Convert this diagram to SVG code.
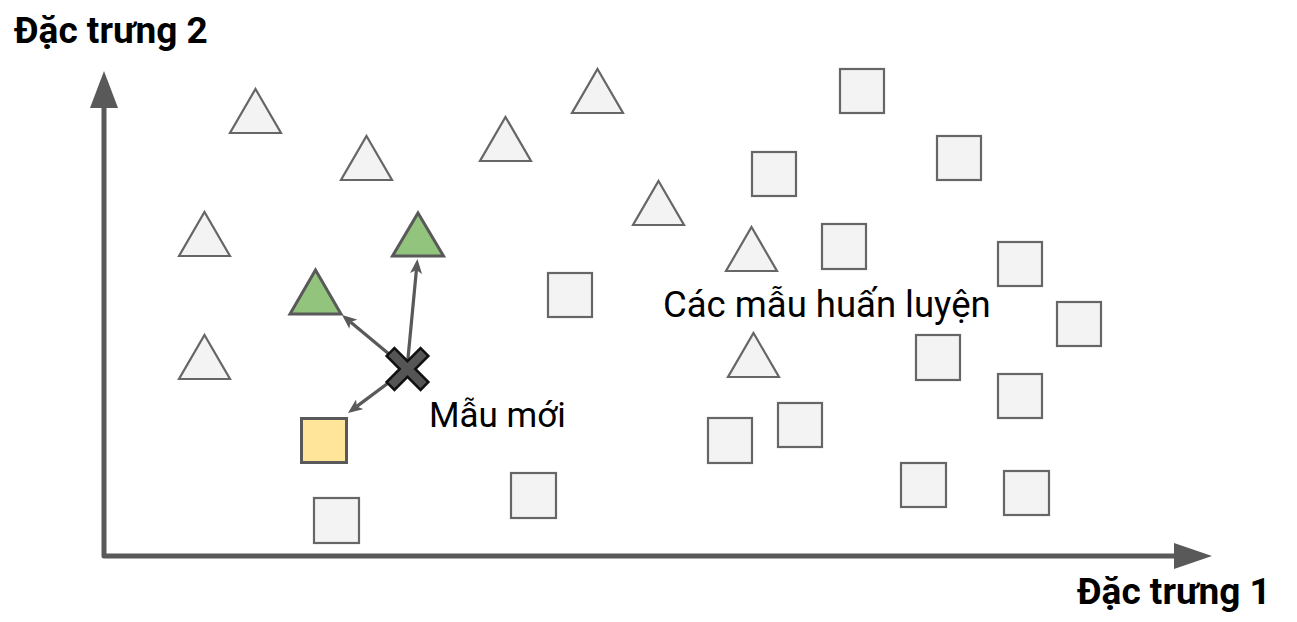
<svg xmlns="http://www.w3.org/2000/svg" width="1297" height="622" viewBox="0 0 1297 622">
<style>
.tri{fill:#f3f3f3;stroke:#666;stroke-width:2.2;stroke-linejoin:miter}
.sq{fill:#f3f3f3;stroke:#666;stroke-width:2.2}
.gtri{fill:#93c47d;stroke:#595959;stroke-width:3}
.ysq{fill:#ffe599;stroke:#595959;stroke-width:3}
.conn{stroke:#595959;stroke-width:3.2;fill:none}
.axis{stroke:#595959;stroke-width:5;fill:none}
.lbl{font-family:Roboto,"Liberation Sans",sans-serif;font-size:35px;fill:#000}
.bold{font-family:Roboto,"Liberation Sans",sans-serif;font-size:37px;font-weight:bold;fill:#000}
</style>
<defs>
<marker id="ah" markerUnits="userSpaceOnUse" markerWidth="16" markerHeight="14" refX="3.5" refY="6" orient="auto" viewBox="0 0 16 12">
<path d="M0,0 L14.5,6 L0,12 L3.5,6 z" fill="#595959"/>
</marker>
</defs>
<rect width="1297" height="622" fill="#fff"/>
<g id="axes">
<path class="axis" d="M104,108 L104,556 L1174,556" stroke-linejoin="round"/>
<polygon points="104,71 118,108 90,108" fill="#595959"/>
<polygon points="1212,556 1174,543 1174,569" fill="#595959"/>
</g>
<g id="triangles">
<polygon id="t1" class="tri" points="255.5,89 281,133 230,133"/>
<polygon id="t2" class="tri" points="366.5,136 392,180 341,180"/>
<polygon id="t3" class="tri" points="597.5,69 623,113 572,113"/>
<polygon id="t4" class="tri" points="505.5,117 531,161 480,161"/>
<polygon id="t5" class="tri" points="204.5,212 230,256 179,256"/>
<polygon id="t6" class="tri" points="658.5,181 684,225 633,225"/>
<polygon id="t7" class="tri" points="751.5,227 777,271 726,271"/>
<polygon id="t8" class="tri" points="204.5,335 230,379 179,379"/>
<polygon id="t9" class="tri" points="753.5,333 779,377 728,377"/>
</g>
<g id="squares">
<rect id="s1" class="sq" x="840" y="69" width="44" height="44"/>
<rect id="s2" class="sq" x="752" y="152" width="44" height="44"/>
<rect id="s3" class="sq" x="937" y="136" width="44" height="44"/>
<rect id="s4" class="sq" x="822" y="224" width="44" height="45"/>
<rect id="s5" class="sq" x="998" y="242" width="44" height="44"/>
<rect id="s6" class="sq" x="548" y="273" width="44" height="44"/>
<rect id="s7" class="sq" x="1057" y="302" width="44" height="44"/>
<rect id="s8" class="sq" x="916" y="335" width="44" height="45"/>
<rect id="s9" class="sq" x="998" y="374" width="44" height="44"/>
<rect id="s10" class="sq" x="778" y="403" width="44" height="44"/>
<rect id="s11" class="sq" x="708" y="418" width="44" height="45"/>
<rect id="s12" class="sq" x="901" y="463" width="45" height="44"/>
<rect id="s13" class="sq" x="1004" y="471" width="45" height="44"/>
<rect id="s14" class="sq" x="511" y="473" width="45" height="45"/>
<rect id="s15" class="sq" x="314" y="498" width="45" height="45"/>
</g>
<g id="neighbors">
<polygon id="g1" class="gtri" points="315.5,270 341,314 290,314"/>
<polygon id="g2" class="gtri" points="418,213 443.5,256 392.5,256"/>
<rect id="y1" class="ysq" x="301.5" y="418.5" width="45" height="44"/>
</g>
<g id="connectors">
<line class="conn" x1="407" y1="369" x2="416.4" y2="270" marker-end="url(#ah)"/>
<line class="conn" x1="407" y1="369" x2="350.5" y2="322" marker-end="url(#ah)"/>
<line class="conn" x1="407" y1="369" x2="356.8" y2="406.4" marker-end="url(#ah)"/>
</g>
<g id="new-sample">
<path transform="translate(407.5,369) rotate(45)" d="M-5.5,-24 L5.5,-24 L5.5,-5.5 L24,-5.5 L24,5.5 L5.5,5.5 L5.5,24 L-5.5,24 L-5.5,5.5 L-24,5.5 L-24,-5.5 L-5.5,-5.5 Z" fill="#555" stroke="#111" stroke-width="2.5" stroke-linejoin="miter"/>
</g>
<g id="labels">
<text class="bold" x="14" y="43">Đặc trưng 2</text>
<text class="bold" x="1077" y="604">Đặc trưng 1</text>
<text class="lbl" x="663" y="317" style="font-size:36.5px">Các mẫu huấn luyện</text>
<text class="lbl" x="429" y="427">Mẫu mới</text>
</g>
</svg>
